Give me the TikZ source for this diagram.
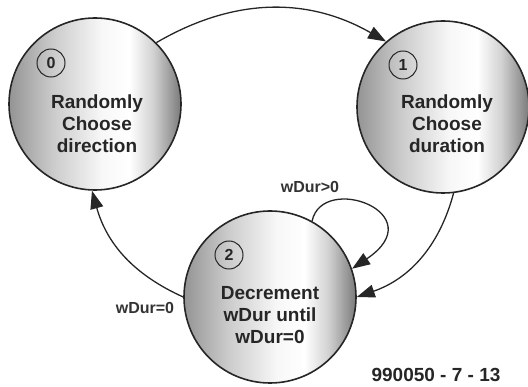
\documentclass[tikz,border=0pt]{standalone}
\usepackage{fontspec}
\setmainfont{Liberation Sans}
\usepackage{tikz}
\usetikzlibrary{shapes,arrows.meta,positioning}
\pgfdeclarehorizontalshading{ballshade}{100bp}{color(0bp)=(black!42); color(25bp)=(black!42); color(38bp)=(black!20); color(52bp)=(black!3); color(60bp)=(white); color(67bp)=(black!18); color(75bp)=(black!52); color(100bp)=(black!52)}
\tikzstyle{state} = [circle, draw=black!85, line width=1.6pt, minimum size=172pt, inner sep=0pt, shading=ballshade]
\tikzstyle{num} = [circle, draw=black!85, line width=1pt, minimum size=28pt, inner sep=0pt, font=\bfseries\fontsize{16}{18}\selectfont, text=black!85]
\tikzstyle{stext} = [align=center, font=\bfseries\fontsize{19}{22}\selectfont, text=black!85]
\tikzstyle{cond} = [font=\bfseries\fontsize{16}{18}\selectfont, text=black!80]
\tikzstyle{line} = [draw, line width=1.3pt, draw=black!85, -{Triangle[length=18pt, width=13pt]}]

\begin{document}
\begin{tikzpicture}[x=1pt, y=1pt]
	\useasboundingbox (0,0) rectangle (528,386);
	\node [state] (s0) at (95, 282) {};
	\node [state] (s1) at (443, 279) {};
	\node [state] (s2) at (270, 89) {};
	
	\node [num] (k0) at ([shift={(-44,41)}]s0.center) {0};
	\node [num] (k1) at ([shift={(-40,42)}]s1.center) {1};
	\node [num] (k2) at ([shift={(-41,42)}]s2.center) {2};
	
	\node [stext] (t0) at ([shift={(2,-20)}]s0.center) {Randomly\\Choose\\direction};
	\node [stext] (t1) at ([shift={(4,-17)}]s1.center) {Randomly\\Choose\\duration};
	\node [stext] (t2) at ([shift={(0,-18)}]s2.center) {Decrement\\wDur until\\wDur=0};
	
	\node [cond] (c0) at (310, 199) {wDur>0};
	\node [cond] (c1) at (145, 78) {wDur=0};
	\node [font=\bfseries\fontsize{19}{21}\selectfont, text=black!85] (fig) at (436, 11) {990050 - 7 - 13};
	
	\path [line] (s0.45) to[bend left=30] (s1.131);
	\path [line] (s1.277) to[bend left=28] (s2.0);
	\path [line] (s2.61) to[out=78, in=34, out distance=50pt, in distance=99pt] (s2.19);
	\path [line] (s2.180) to[bend left=25] (s0.268);
\end{tikzpicture}
\end{document}
